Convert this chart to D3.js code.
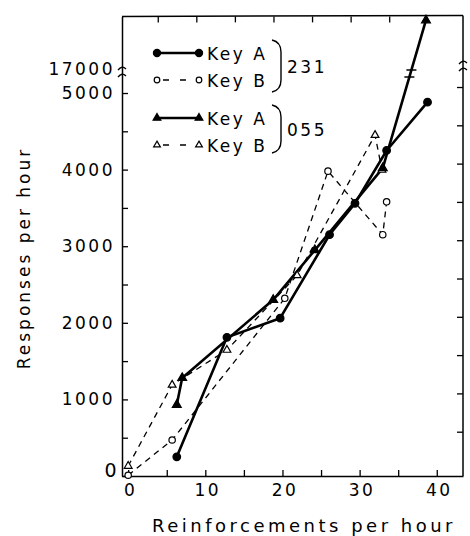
<!DOCTYPE html>
<html lang="en">
<head>
<meta charset="utf-8">
<title>Responses vs reinforcements</title>
<script src="https://d3js.org/d3.v7.min.js"></script>
<style type="text/css">
  body { margin: 0; background: #fff; }
  text { font-family: "DejaVu Sans", sans-serif; fill: #000; }
</style>
</head>
<body>
<script type="text/javascript">
// bird 231
var x231A = [6.3, 12.8, 19.7, 26.1, 29.4, 33.5, 38.8];
var y231A = [250, 1810, 2060, 3150, 3560, 4250, 4880];
var x231B = [0, 5.7, 20.3, 25.9, 33.0, 33.5];
var y231B = [10, 470, 2320, 3980, 3150, 3580];
// bird 055
var x055A = [6.3, 7.0, 18.8, 24.2, 33.0, 38.6];
var y055A = [930, 1280, 2300, 2950, 4020, 17650];
var x055B = [0, 5.7, 12.8, 21.9, 32.0, 32.9];
var y055B = [130, 1190, 1645, 2620, 4450, 3995];

var xTicks = [0, 5, 10, 15, 20, 25, 30, 35, 40];
var xLabels = [0, 10, 20, 30, 40];
var yTicks = [0, 500, 1000, 1500, 2000, 2500, 3000, 3500, 4000, 4500, 5000];
var yLabels = [0, 1000, 2000, 3000, 4000, 5000];
var yUpperLabels = [17000];

var width = 470, height = 536;

var svg = d3.select("body").append("svg")
  .attr("width", width)
  .attr("height", height);

var x = d3.scaleLinear().domain([-0.8, 43.4]).range([122, 463]);
// broken axis: 5200..16900 collapses into the break
var y = d3.scaleLinear()
  .domain([0, 5200, 16900, 17700])
  .range([476, 77.7, 77.7, 16.4]);

function zip(xs, ys) {
  return xs.map(function(v, i) { return {x: v, y: ys[i]}; });
}
var series = [
  {name: "231A", pts: zip(x231A, y231A), dash: null, mark: "circle", fill: true},
  {name: "231B", pts: zip(x231B, y231B), dash: "6,5", mark: "circle", fill: false},
  {name: "055A", pts: zip(x055A, y055A), dash: null, mark: "triangle", fill: true},
  {name: "055B", pts: zip(x055B, y055B), dash: "6,5", mark: "triangle", fill: false}
];

var font = function(sel, size, ls) {
  sel.attr("font-family", "DejaVu Sans, sans-serif")
     .attr("font-size", size + "px")
     .attr("letter-spacing", ls + "px")
     .attr("fill", "#000");
};

// bottom axis
var gx = svg.append("g")
  .attr("transform", "translate(0," + y(0) + ")")
  .call(d3.axisBottom(x).tickValues(xTicks)
    .tickSizeInner(-6).tickSizeOuter(0).tickPadding(8)
    .tickFormat(function(d) { return xLabels.indexOf(d) >= 0 ? d : ""; }));
gx.selectAll("text").call(font, 17, 2.5).attr("dx", "2px");

// left axis
var gy = svg.append("g")
  .attr("transform", "translate(" + x(-0.8) + ",0)")
  .call(d3.axisLeft(y).tickValues(yTicks)
    .tickSizeInner(-6).tickSizeOuter(0).tickPadding(7)
    .tickFormat(function(d) { return yLabels.indexOf(d) >= 0 ? d : ""; }));
gy.selectAll("text").call(font, 17, 2.5);
gy.selectAll(".tick").filter(function(d) { return d === 0; }).select("text")
  .attr("font-size", "19px").attr("dy", "0.05em").attr("x", -3);

svg.append("g").selectAll("text")
  .data(yUpperLabels).enter().append("text")
  .attr("x", x(-0.8) - 7)
  .attr("y", function(d) { return y(d); })
  .attr("dy", "0.32em")
  .attr("text-anchor", "end")
  .text(function(d) { return d; })
  .call(font, 17, 2.5);

// frame top and right
var gt = svg.append("g")
  .attr("transform", "translate(-9," + y(17700) + ")")
  .call(d3.axisTop(x).tickValues([5, 10, 15, 20, 25, 30, 35])
    .tickSizeInner(-6).tickSizeOuter(0).tickFormat(""));
gt.select(".domain").remove();
svg.append("line")
  .attr("x1", x(-0.8)).attr("x2", x(43.4))
  .attr("y1", y(17700)).attr("y2", y(17700) - 1)
  .attr("stroke", "#000").attr("stroke-width", 1.5);

var gr = svg.append("g")
  .attr("transform", "translate(" + x(43.4) + ",-6)")
  .call(d3.axisRight(y).tickValues(yTicks.slice(1))
    .tickSizeInner(-6).tickSizeOuter(0).tickFormat(""));
gr.select(".domain").remove();
svg.append("line")
  .attr("x1", x(43.4)).attr("x2", x(43.4))
  .attr("y1", y(17700) - 1).attr("y2", y(0))
  .attr("stroke", "#000").attr("stroke-width", 1.5);

svg.selectAll(".domain").attr("stroke-width", 1.5);
svg.selectAll(".tick line").attr("stroke-width", 1.3);

// axis break marks
[[x(-0.8), 68], [x(-0.8), 75], [x(43.4), 62], [x(43.4), 69]].forEach(function(p) {
  svg.append("path")
    .attr("d", "M" + (p[0] - 4) + "," + (p[1] + 2) + "Q" + p[0] + "," + (p[1] - 3) + " " + (p[0] + 4) + "," + (p[1] + 1))
    .attr("fill", "none").attr("stroke", "#000").attr("stroke-width", 1.3);
});

// lines
var line = d3.line()
  .x(function(d) { return x(d.x); })
  .y(function(d) { return y(d.y); });

var order = [series[1], series[3], series[0], series[2]];
svg.append("g").selectAll("path")
  .data(order).enter().append("path")
  .attr("d", function(s) { return line(s.pts); })
  .attr("fill", "none")
  .attr("stroke", "#000")
  .attr("stroke-width", function(s) { return s.dash ? 1.3 : 2.6; })
  .attr("stroke-dasharray", function(s) { return s.dash; })
  .attr("stroke-linejoin", "round");

// break marks on the 055 key A segment that crosses the axis break
var p1 = series[2].pts[series[2].pts.length - 2], p2 = series[2].pts[series[2].pts.length - 1];
var ax = x(p1.x), ay = y(p1.y), bx = x(p2.x), by = y(p2.y);
[70, 77].forEach(function(yy) {
  var xx = ax + (ay - yy) / (ay - by) * (bx - ax);
  svg.append("line")
    .attr("x1", xx - 5).attr("x2", xx + 5)
    .attr("y1", yy).attr("y2", yy)
    .attr("stroke", "#000").attr("stroke-width", 1.5);
});

// markers
var tri = d3.symbol().type(d3.symbolTriangle);
order.forEach(function(s) {
  var g = svg.append("g");
  var m = g.selectAll(".m").data(s.pts).enter();
  if (s.mark === "circle") {
    m.append("circle")
      .attr("cx", function(d) { return x(d.x); })
      .attr("cy", function(d) { return y(d.y); })
      .attr("r", s.fill ? 3.8 : 3.2)
      .attr("fill", s.fill ? "#000" : "#fff")
      .attr("stroke", "#000")
      .attr("stroke-width", 1.2);
  } else {
    m.append("path")
      .attr("d", tri.size(s.fill ? 34 : 26)())
      .attr("transform", function(d) { return "translate(" + x(d.x) + "," + y(d.y) + ")"; })
      .attr("fill", s.fill ? "#000" : "#fff")
      .attr("stroke", "#000")
      .attr("stroke-width", 1.2);
  }
});

// legend
var legend = [
  {s: series[0], label: "Key A", y: 53},
  {s: series[1], label: "Key B", y: 80},
  {s: series[2], label: "Key A", y: 118},
  {s: series[3], label: "Key B", y: 145}
];
var lg = svg.append("g");
legend.forEach(function(l) {
  lg.append("line")
    .attr("x1", 157).attr("x2", 199)
    .attr("y1", l.y).attr("y2", l.y)
    .attr("stroke", "#000")
    .attr("stroke-width", l.s.dash ? 1.3 : 2.6)
    .attr("stroke-dasharray", l.s.dash ? "0,6,6,5" : null);
  [157, 199].forEach(function(cx) {
    if (l.s.mark === "circle") {
      lg.append("circle").attr("cx", cx).attr("cy", l.y)
        .attr("r", l.s.fill ? 3.6 : 2.8)
        .attr("fill", l.s.fill ? "#000" : "#fff")
        .attr("stroke", "#000").attr("stroke-width", 1.2);
    } else {
      lg.append("path").attr("d", tri.size(l.s.fill ? 26 : 20)())
        .attr("transform", "translate(" + cx + "," + l.y + ")")
        .attr("fill", l.s.fill ? "#000" : "#fff")
        .attr("stroke", "#000").attr("stroke-width", 1.2);
    }
  });
  lg.append("text")
    .attr("x", 207).attr("y", l.y + 7)
    .text(l.label)
    .call(font, 17, 2.5);
});
[[40, 92, "231"], [105, 153, "055"]].forEach(function(b) {
  var t = b[0], bt = b[1];
  lg.append("path")
    .attr("d", "M272," + t + "Q281," + (t + 2) + " 281," + (t + 12) +
      "L281," + (bt - 12) + "Q281," + (bt - 2) + " 272," + bt)
    .attr("fill", "none").attr("stroke", "#000").attr("stroke-width", 1.4);
  lg.append("text")
    .attr("x", 287).attr("y", (t + bt) / 2 + 7)
    .text(b[2])
    .call(font, 17, 2.5);
});

// axis titles
svg.append("text")
  .attr("x", 304).attr("y", 532)
  .attr("text-anchor", "middle")
  .text("Reinforcements per hour")
  .call(font, 18, 3.5);

svg.append("text")
  .attr("transform", "translate(30,258) rotate(-90)")
  .attr("text-anchor", "middle")
  .text("Responses per hour")
  .call(font, 17, 3);
</script>
</body>
</html>
